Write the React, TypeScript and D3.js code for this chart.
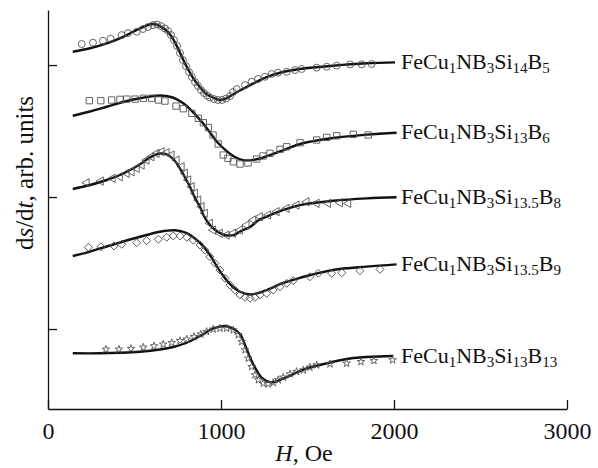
import React, { useEffect, useRef } from 'react'
import * as d3 from 'd3'

type Pt = [number, number]

// H (Oe) vs ds/dt (arb. units, curves shifted vertically)
const fitSi14B5: Pt[] = [
  [143, 3.101], [243, 3.127], [339, 3.164], [435, 3.214], [532, 3.278], [609, 3.311], [686, 3.260],
  [724, 3.195], [763, 3.093], [802, 2.987], [840, 2.899], [879, 2.831], [917, 2.778], [955, 2.754],
  [990, 2.735], [1029, 2.746], [1069, 2.777], [1110, 2.807], [1168, 2.848], [1264, 2.909],
  [1358, 2.947], [1457, 2.970], [1647, 2.995], [1842, 3.013], [2006, 3.020]
]
const expSi14B5: Pt[] = [
  [195, 3.159], [260, 3.169], [318, 3.184], [362, 3.199], [426, 3.227], [462, 3.242], [513, 3.252],
  [549, 3.273], [578, 3.288], [607, 3.303], [630, 3.307], [653, 3.295], [676, 3.277], [694, 3.258],
  [711, 3.227], [728, 3.189], [746, 3.144], [763, 3.091], [780, 3.038], [798, 2.992], [815, 2.947],
  [832, 2.909], [850, 2.871], [867, 2.841], [884, 2.811], [902, 2.788], [919, 2.769], [936, 2.754],
  [959, 2.742], [983, 2.735], [1006, 2.735], [1029, 2.746], [1052, 2.765], [1069, 2.795],
  [1091, 2.818], [1139, 2.848], [1177, 2.874], [1214, 2.894], [1254, 2.911], [1293, 2.932],
  [1329, 2.942], [1380, 2.949], [1428, 2.962], [1466, 2.970], [1553, 2.980], [1611, 2.987],
  [1669, 2.995], [1746, 3.005], [1813, 3.005], [1871, 3.008]
]

const fitSi13B6: Pt[] = [
  [143, 2.616], [243, 2.648], [339, 2.684], [435, 2.720], [532, 2.748], [647, 2.769], [721, 2.754],
  [780, 2.712], [838, 2.644], [890, 2.568], [936, 2.489], [983, 2.409], [1033, 2.348], [1081, 2.303],
  [1127, 2.280], [1179, 2.280], [1225, 2.292], [1283, 2.318], [1370, 2.360], [1457, 2.402],
  [1649, 2.447], [1842, 2.473], [2015, 2.487]
]
const expSi13B6: Pt[] = [
  [239, 2.730], [305, 2.730], [368, 2.735], [416, 2.740], [455, 2.742], [503, 2.742], [551, 2.748],
  [599, 2.748], [638, 2.735], [676, 2.727], [740, 2.689], [782, 2.669], [831, 2.634], [869, 2.596],
  [898, 2.563], [927, 2.527], [954, 2.470], [984, 2.402], [1013, 2.318], [1040, 2.293], [1071, 2.267],
  [1110, 2.250], [1156, 2.258], [1206, 2.288], [1243, 2.311], [1283, 2.331], [1341, 2.361],
  [1380, 2.381], [1457, 2.411], [1553, 2.432], [1611, 2.452], [1669, 2.464], [1765, 2.475], [1851, 2.470]
]

const fitSi135B8: Pt[] = [
  [143, 2.061], [243, 2.091], [339, 2.129], [435, 2.178], [532, 2.248], [570, 2.284], [609, 2.314],
  [647, 2.330], [686, 2.324], [724, 2.288], [763, 2.216], [792, 2.148], [821, 2.076],
  [850, 1.992], [879, 1.924], [898, 1.864], [936, 1.788], [975, 1.742], [1012, 1.716], [1046, 1.708],
  [1081, 1.716], [1121, 1.746], [1168, 1.773], [1214, 1.822], [1264, 1.852], [1360, 1.902],
  [1457, 1.939], [1649, 1.972], [1842, 1.990], [2015, 1.998]
]
const expSi135B8: Pt[] = [
  [224, 2.108], [306, 2.121], [374, 2.142], [416, 2.154], [455, 2.180], [484, 2.192], [513, 2.217],
  [542, 2.242], [570, 2.280], [599, 2.305], [628, 2.331], [657, 2.343], [686, 2.336], [715, 2.318],
  [744, 2.280], [773, 2.230], [792, 2.180], [811, 2.129], [831, 2.078], [850, 2.028], [869, 1.977],
  [888, 1.927], [907, 1.877], [936, 1.801], [955, 1.750], [994, 1.725], [1033, 1.712], [1071, 1.725],
  [1110, 1.750], [1148, 1.788], [1187, 1.826], [1225, 1.851], [1273, 1.864], [1322, 1.889],
  [1380, 1.914], [1437, 1.939], [1495, 1.964], [1553, 1.952], [1620, 1.952], [1688, 1.957], [1736, 1.952]
]

const fitSi135B9: Pt[] = [
  [143, 1.553], [243, 1.587], [339, 1.625], [435, 1.663], [532, 1.699], [647, 1.737], [734, 1.748],
  [802, 1.727], [850, 1.686], [898, 1.625], [936, 1.561], [975, 1.477], [1012, 1.405], [1052, 1.340],
  [1110, 1.282], [1168, 1.262], [1214, 1.272], [1264, 1.295], [1360, 1.349], [1457, 1.388],
  [1647, 1.447], [1842, 1.473], [2015, 1.490]
]
const expSi135B9: Pt[] = [
  [233, 1.619], [306, 1.623], [381, 1.629], [426, 1.642], [513, 1.654], [570, 1.669], [638, 1.680],
  [686, 1.695], [724, 1.705], [763, 1.705], [802, 1.695], [840, 1.674], [879, 1.636], [907, 1.598],
  [936, 1.548], [965, 1.498], [994, 1.447], [1023, 1.384], [1052, 1.333], [1081, 1.295], [1110, 1.258],
  [1139, 1.240], [1168, 1.233], [1196, 1.240], [1225, 1.258], [1264, 1.270], [1302, 1.295],
  [1341, 1.320], [1380, 1.346], [1418, 1.366], [1514, 1.396], [1562, 1.422], [1640, 1.422],
  [1698, 1.426], [1803, 1.442], [1919, 1.452]
]

const fitSi13B13: Pt[] = [
  [143, 0.816], [300, 0.816], [416, 0.820], [532, 0.828], [647, 0.845], [724, 0.864], [798, 0.894],
  [879, 0.947], [955, 1.004], [1023, 1.023], [1069, 1.004], [1110, 0.962], [1139, 0.879], [1168, 0.784],
  [1206, 0.686], [1237, 0.629], [1272, 0.602], [1306, 0.598], [1380, 0.636], [1495, 0.701],
  [1630, 0.746], [1746, 0.777], [1996, 0.795]
]
const expSi13B13: Pt[] = [
  [335, 0.846], [410, 0.846], [480, 0.851], [551, 0.861], [613, 0.871], [666, 0.884], [715, 0.896],
  [763, 0.911], [802, 0.922], [844, 0.942], [883, 0.960], [917, 0.980], [955, 0.998], [994, 1.005],
  [1033, 1.005], [1071, 0.992], [1100, 0.955], [1120, 0.904], [1139, 0.841], [1158, 0.778],
  [1177, 0.714], [1196, 0.652], [1216, 0.614], [1244, 0.589], [1273, 0.583], [1302, 0.593],
  [1331, 0.614], [1360, 0.634], [1399, 0.659], [1437, 0.677], [1476, 0.689], [1514, 0.710],
  [1553, 0.727], [1630, 0.735], [1726, 0.740], [1809, 0.752], [1884, 0.760], [1992, 0.765]
]

// label pieces: normal, subscript, normal, subscript ...
const labels: string[][] = [
  ['FeCu', '1', 'NB', '3', 'Si', '14', 'B', '5'],
  ['FeCu', '1', 'NB', '3', 'Si', '13', 'B', '6'],
  ['FeCu', '1', 'NB', '3', 'Si', '13.5', 'B', '8'],
  ['FeCu', '1', 'NB', '3', 'Si', '13.5', 'B', '9'],
  ['FeCu', '1', 'NB', '3', 'Si', '13', 'B', '13']
]
const fits = [fitSi14B5, fitSi13B6, fitSi135B8, fitSi135B9, fitSi13B13]
const exps = [expSi14B5, expSi13B6, expSi135B8, expSi135B9, expSi13B13]
const markers = ['circle', 'square', 'triangleLeft', 'diamond', 'star']

const xTicks = [0, 1000, 2000, 3000]
const yTicks = [1, 2, 3]

const font = '"Liberation Serif", "Times New Roman", serif'

export default function App() {
  const ref = useRef<SVGSVGElement>(null)

  useEffect(() => {
    const svg = d3.select(ref.current)
    svg.selectAll('*').remove()

    const x = d3.scaleLinear().domain([0, 3000]).range([48, 567])
    const y = d3.scaleLinear().domain([0.394, 3.417]).range([409, 10])

    const xAxis = svg.append('g')
      .attr('transform', 'translate(0,409)')
      .call(d3.axisBottom(x).tickValues(xTicks).tickSizeInner(-9).tickSizeOuter(0).tickPadding(13).tickFormat(d3.format('d')))
    xAxis.attr('font-family', font).attr('font-size', 24)
    xAxis.selectAll('text').attr('fill', '#111').attr('font-family', font).attr('font-size', 24)
    xAxis.selectAll('path, line').attr('stroke', '#111').attr('stroke-width', 1.3)

    const yAxis = svg.append('g')
      .attr('transform', 'translate(48,0)')
      .call(d3.axisLeft(y).tickValues(yTicks).tickSizeInner(-9).tickSizeOuter(0).tickFormat(() => ''))
    yAxis.selectAll('path, line').attr('stroke', '#111').attr('stroke-width', 1.3)

    const line = d3.line<Pt>()
      .x(d => x(d[0]))
      .y(d => y(d[1]))
      .curve(d3.curveCatmullRom.alpha(0.5))

    const symbolOf = (m: string) => {
      if (m === 'circle') return { path: d3.symbol(d3.symbolCircle, 38)(), rot: 0 }
      if (m === 'square') return { path: d3.symbol(d3.symbolSquare, 40)(), rot: 0 }
      if (m === 'triangleLeft') return { path: d3.symbol(d3.symbolTriangle, 30)(), rot: -90 }
      if (m === 'diamond') return { path: d3.symbol(d3.symbolSquare, 32)(), rot: 45 }
      return { path: d3.symbol(d3.symbolStar, 18)(), rot: 0 }
    }

    fits.forEach((fit, i) => {
      const g = svg.append('g')

      g.append('path')
        .attr('d', line(fit))
        .attr('fill', 'none')
        .attr('stroke', '#111')
        .attr('stroke-width', 2.4)

      const sym = symbolOf(markers[i])
      g.append('g')
        .selectAll('path')
        .data(exps[i])
        .join('path')
        .attr('d', sym.path)
        .attr('transform', d => `translate(${x(d[0])},${y(d[1])}) rotate(${sym.rot})`)
        .attr('fill', 'none')
        .attr('stroke', '#555')
        .attr('stroke-width', 0.9)

      const last = fit[fit.length - 1]
      const t = g.append('text')
        .attr('x', 401)
        .attr('y', y(last[1]) + 6.5)
        .attr('font-family', font)
        .attr('font-size', 22)
        .attr('fill', '#111')
      labels[i].forEach((p, k) => {
        const sub = k % 2 === 1
        t.append('tspan')
          .attr('font-size', sub ? 15 : 22)
          .attr('dy', k === 0 ? 0 : sub ? 4 : -4)
          .text(p)
      })
    })

    const xl = svg.append('text')
      .attr('x', 304)
      .attr('y', 461)
      .attr('text-anchor', 'middle')
      .attr('font-family', font)
      .attr('font-size', 24)
      .attr('fill', '#111')
    xl.append('tspan').attr('font-style', 'italic').text('H')
    xl.append('tspan').text(', Oe')

    const yl = svg.append('text')
      .attr('transform', 'translate(33,173) rotate(-90)')
      .attr('text-anchor', 'middle')
      .attr('font-family', font)
      .attr('font-size', 25)
      .attr('fill', '#111')
    yl.append('tspan').text('d')
    yl.append('tspan').attr('font-style', 'italic').text('s')
    yl.append('tspan').text('/d')
    yl.append('tspan').attr('font-style', 'italic').text('t')
    yl.append('tspan').text(', arb. units')
  }, [])

  return (
    <div style={{ position: 'absolute', left: 0, top: 0 }}>
      <svg ref={ref} width={598} height={468} style={{ display: 'block', background: '#fff' }} />
    </div>
  )
}
